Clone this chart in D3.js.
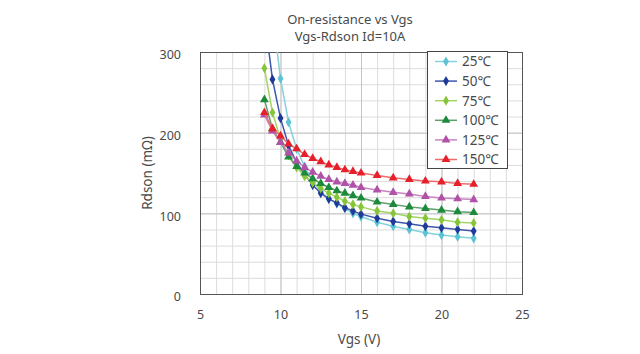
<!DOCTYPE html>
<html>
<head>
<meta charset="utf-8">
<script src="https://cdn.jsdelivr.net/npm/d3@7"></script>
<style>
    body { margin: 0; background: #fff; }
    svg text { font-family: "Noto Sans", "Noto Sans CJK JP", sans-serif; fill: #4a4a4a; }
    .minor line { stroke: #dcdcdc; }
    .major line { stroke: #c4c4c4; }
    .frame { fill: none; stroke: #555; stroke-width: 1; }
</style>
</head>
<body>
<svg id="chart" width="640" height="354"></svg>
<script>
    // gate voltage steps (V)
    const vgs = [9, 9.5, 10, 10.5, 11, 11.5, 12, 12.5, 13, 13.5, 14, 14.5, 15, 16, 17, 18, 19, 20, 21, 22];

    // Rdson (mOhm) per temperature, null where no point
    const r25  = [null, 350, 267, 213, 180, 158, 140, 127, 118, 112, 106, 100, 96, 89, 84, 80, 76, 73, 71, 69];
    const r50  = [345, 266, 218, 184, 163, 148, 135, 125, 118, 113, 107, 103, 99, 94, 90, 87, 84, 82, 80, 78];
    const r75  = [280, 225, 192, 172, 157, 146, 138, 131, 125, 120, 115, 111, 108, 103, 100, 96, 94, 92, 89, 88];
    const r100 = [241, 205, 188, 170, 158, 150, 143, 137, 132, 128, 125, 122, 119, 114, 111, 108, 106, 104, 102, 101];
    const r125 = [222, 202, 188, 175, 165, 157, 151, 146, 142, 139, 137, 135, 132, 129, 126, 124, 121, 119, 118, 117];
    const r150 = [225, 205, 196, 186, 180, 173, 168, 164, 160, 157, 154, 152, 150, 147, 144, 142, 140, 139, 137, 136];

    const seriesNames = ["25℃", "50℃", "75℃", "100℃", "125℃", "150℃"];
    const seriesValues = [r25, r50, r75, r100, r125, r150];
    const lineColors = ["#84d2dc", "#3e56ad", "#a3d565", "#5c9f6c", "#c983c1", "#ef6b6b"];
    const markColors = ["#5cc3d3", "#1f3a98", "#86c53a", "#1d8a3b", "#b052a8", "#e61f2a"];
    const markShapes = ["diamond", "diamond", "diamond", "triangle", "triangle", "triangle"];

    const xTicks = [5, 10, 15, 20, 25];
    const yTicks = [0, 100, 200, 300];

    const margin = {top: 52, right: 118, bottom: 60, left: 200};
    const width = 640 - margin.left - margin.right;
    const height = 354 - margin.top - margin.bottom;

    const svg = d3.select("#chart");
    const chart = svg.append("g").attr("transform", "translate(" + margin.left + "," + margin.top + ")");

    const x = d3.scaleLinear().domain([5, 25]).range([0, width]);
    const y = d3.scaleLinear().domain([0, 300]).range([height, 0]);

    // grid, minor every 1V / 20 mOhm, major on the labelled ticks
    chart.append("g").attr("class", "minor")
        .call(d3.axisBottom(x).tickValues(d3.range(5, 26, 1)).tickSize(height).tickFormat(""))
        .call(g => g.select(".domain").remove());
    chart.append("g").attr("class", "minor")
        .call(d3.axisLeft(y).tickValues(d3.range(0, 301, 20)).tickSize(-width).tickFormat(""))
        .call(g => g.select(".domain").remove());
    chart.append("g").attr("class", "major")
        .call(d3.axisBottom(x).tickValues(xTicks).tickSize(height).tickFormat(""))
        .call(g => g.select(".domain").remove());
    chart.append("g").attr("class", "major")
        .call(d3.axisLeft(y).tickValues(yTicks).tickSize(-width).tickFormat(""))
        .call(g => g.select(".domain").remove());

    chart.append("rect").attr("class", "frame")
        .attr("x", 0.5).attr("y", 0.5).attr("width", width).attr("height", height);

    // tick labels
    const xAxis = chart.append("g").attr("transform", "translate(0," + height + ")")
        .call(d3.axisBottom(x).tickValues(xTicks).tickSize(0).tickPadding(16));
    xAxis.select(".domain").remove();
    xAxis.selectAll("text").style("font-size", "12.5px");

    const yAxis = chart.append("g")
        .call(d3.axisLeft(y).tickValues(yTicks).tickSize(0).tickPadding(19));
    yAxis.select(".domain").remove();
    yAxis.selectAll("text").style("font-size", "12.5px").attr("dy", "0.55em");

    // titles
    svg.append("text").attr("x", 350).attr("y", 24).attr("text-anchor", "middle")
        .style("font-size", "13px").text("On-resistance vs Vgs");
    svg.append("text").attr("x", 350).attr("y", 41).attr("text-anchor", "middle")
        .style("font-size", "13px").text("Vgs-Rdson Id=10A");
    svg.append("text").attr("x", 359).attr("y", 344).attr("text-anchor", "middle")
        .style("font-size", "13.5px").text("Vgs (V)");
    svg.append("text").attr("transform", "translate(152," + (margin.top + height / 2) + ") rotate(-90)")
        .attr("text-anchor", "middle").style("font-size", "13.5px").text("Rdson (mΩ)");

    // clip the curves to the plot area
    chart.append("clipPath").attr("id", "plotclip")
        .append("rect").attr("width", width).attr("height", height);

    const diamond = d3.symbol().type(d3.symbolDiamond).size(30);
    const triangle = d3.symbol().type(d3.symbolTriangle).size(34);
    function markPath(shape) { return shape === "diamond" ? diamond() : triangle(); }

    const line = d3.line()
        .defined(d => d.y != null)
        .x(d => x(d.x))
        .y(d => y(d.y));

    const series = seriesValues.map((vals, i) => vgs.map((v, j) => ({x: v, y: vals[j]})));

    const plot = chart.append("g").attr("clip-path", "url(#plotclip)");
    series.forEach((data, i) => {
        const g = plot.append("g");
        g.append("path").datum(data)
            .attr("fill", "none")
            .attr("stroke", lineColors[i])
            .attr("stroke-width", 1.5)
            .attr("d", line);
        g.selectAll("path.mark").data(data.filter(d => d.y != null))
            .enter().append("path").attr("class", "mark")
            .attr("transform", d => "translate(" + x(d.x) + "," + y(d.y) + ")")
            .attr("d", markPath(markShapes[i]))
            .attr("fill", markColors[i]);
    });

    // legend
    const legend = svg.append("g").attr("transform", "translate(427,51)");
    legend.append("rect").attr("x", 0.5).attr("y", 0.5).attr("width", 80).attr("height", 117)
        .attr("fill", "#fff").attr("stroke", "#444");
    seriesNames.forEach((name, i) => {
        const row = legend.append("g").attr("transform", "translate(0," + (10.5 + i * 19.6) + ")");
        row.append("line").attr("x1", 8).attr("x2", 30).attr("y1", 0).attr("y2", 0)
            .attr("stroke", lineColors[i]).attr("stroke-width", 1.5);
        row.append("path").attr("transform", "translate(19,0)")
            .attr("d", markPath(markShapes[i])).attr("fill", markColors[i]);
        row.append("text").attr("x", 35).attr("y", 0).attr("dy", "0.36em")
            .style("font-size", "13.5px").text(name);
    });
</script>
</body>
</html>
